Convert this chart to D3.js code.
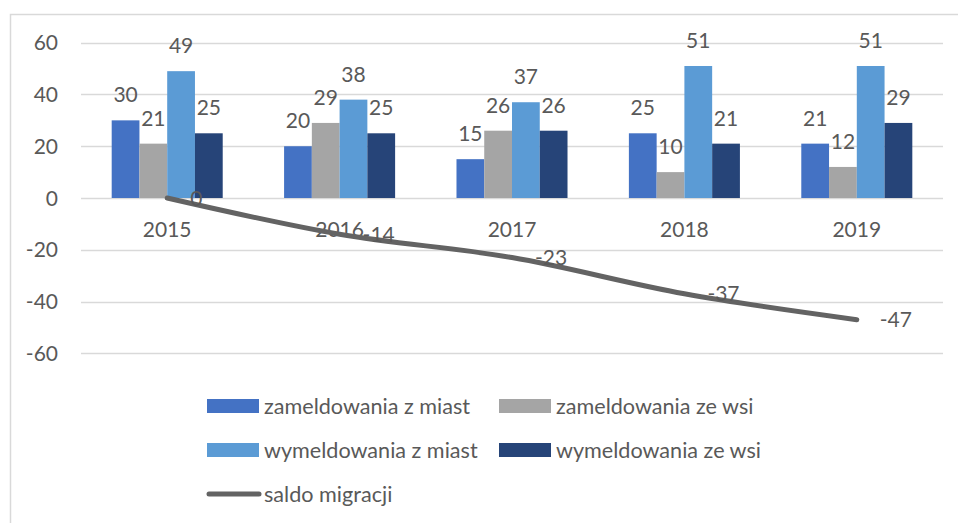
<!DOCTYPE html>
<meta charset="utf-8">
<style>

body {
  margin: 0;
  background: #fff;
}

text {
  font-family: Lato, "Open Sans", sans-serif;
  fill: #595959;
}

</style>
<svg></svg>
<script src="https://d3js.org/d3.v7.min.js"></script>
<script>

var width = 958,
    height = 523;

// data
var years = ["2015", "2016", "2017", "2018", "2019"];
var zamMiast = [30, 20, 15, 25, 21];
var zamWies = [21, 29, 26, 10, 12];
var wymMiast = [49, 38, 37, 51, 51];
var wymWies = [25, 25, 26, 21, 29];
var saldo = [0, -14, -23, -37, -47];
var yTicks = [-60, -40, -20, 0, 20, 40, 60];

var barSeries = [
  {name: "zameldowania z miast", values: zamMiast, color: "#4472C4"},
  {name: "zameldowania ze wsi", values: zamWies, color: "#A5A5A5"},
  {name: "wymeldowania z miast", values: wymMiast, color: "#5B9BD5"},
  {name: "wymeldowania ze wsi", values: wymWies, color: "#264478"}
];

var svg = d3.select("svg")
    .attr("width", width)
    .attr("height", height);

// chart border
svg.append("rect")
    .attr("x", 10.5)
    .attr("y", 14.5)
    .attr("width", 1000)
    .attr("height", 600)
    .attr("fill", "none")
    .attr("stroke", "#d9d9d9")
    .attr("stroke-width", 1.5);

var x = d3.scaleBand()
    .domain(years)
    .range([81, 943])
    .paddingInner(0.356)
    .paddingOuter(0.178);

var xs = d3.scaleBand()
    .domain(d3.range(barSeries.length))
    .range([0, x.bandwidth()]);

var y = d3.scaleLinear()
    .domain([-60, 60])
    .range([353.3, 42.7]);

// gridlines
svg.append("g").selectAll("line")
    .data(yTicks)
  .enter().append("line")
    .attr("x1", 81)
    .attr("x2", 943)
    .attr("y1", function(d) { return Math.round(y(d)) + 0.5; })
    .attr("y2", function(d) { return Math.round(y(d)) + 0.5; })
    .attr("stroke", "#d9d9d9")
    .attr("stroke-width", 1.5);

// y tick labels
svg.append("g").selectAll("text")
    .data(yTicks)
  .enter().append("text")
    .attr("x", 58)
    .attr("y", function(d) { return y(d); })
    .attr("dy", "0.36em")
    .attr("text-anchor", "end")
    .style("font-size", "21px")
    .text(function(d) { return d; });

// category labels
svg.append("g").selectAll("text")
    .data(years)
  .enter().append("text")
    .attr("x", function(d) { return x(d) + x.bandwidth() / 2; })
    .attr("y", 237)
    .attr("text-anchor", "middle")
    .style("font-size", "21px")
    .text(function(d) { return d; });

// bars
var groups = svg.append("g").selectAll("g")
    .data(barSeries)
  .enter().append("g")
    .attr("fill", function(d) { return d.color; });

groups.selectAll("rect")
    .data(function(d, i) { return d.values.map(function(v, j) { return {s: i, year: years[j], v: v}; }); })
  .enter().append("rect")
    .attr("x", function(d) { return x(d.year) + xs(d.s); })
    .attr("width", xs.bandwidth())
    .attr("y", function(d) { return y(Math.max(0, d.v)); })
    .attr("height", function(d) { return Math.abs(y(d.v) - y(0)); });

// saldo line
var line = d3.line()
    .x(function(d, i) { return x(years[i]) + x.bandwidth() / 2; })
    .y(function(d) { return y(d); })
    .curve(d3.curveCatmullRom.alpha(0.5));

svg.append("path")
    .datum(saldo)
    .attr("d", line)
    .attr("fill", "none")
    .attr("stroke", "#636363")
    .attr("stroke-width", 5)
    .attr("stroke-linecap", "round")
    .attr("stroke-linejoin", "round");

// bar value labels
groups.selectAll("text")
    .data(function(d, i) { return d.values.map(function(v, j) { return {s: i, year: years[j], v: v}; }); })
  .enter().append("text")
    .attr("x", function(d) { return x(d.year) + xs(d.s) + xs.bandwidth() / 2; })
    .attr("y", function(d) { return y(d.v) - 18; })
    .attr("text-anchor", "middle")
    .style("font-size", "21px")
    .text(function(d) { return d.v; });

// saldo labels, to the right of the points
svg.append("g").selectAll("text")
    .data(saldo)
  .enter().append("text")
    .attr("x", function(d, i) { return x(years[i]) + x.bandwidth() / 2 + 23; })
    .attr("y", function(d) { return y(d); })
    .attr("dy", "0.36em")
    .style("font-size", "21px")
    .text(function(d) { return d; });

// legend
var legendItems = [
  {s: barSeries[0], x: 207, y: 406},
  {s: barSeries[1], x: 499, y: 406},
  {s: barSeries[2], x: 207, y: 450},
  {s: barSeries[3], x: 499, y: 450}
];

var legend = svg.append("g");

legend.selectAll("rect")
    .data(legendItems)
  .enter().append("rect")
    .attr("x", function(d) { return d.x; })
    .attr("y", function(d) { return d.y - 7; })
    .attr("width", 52)
    .attr("height", 14)
    .attr("fill", function(d) { return d.s.color; });

legend.selectAll("text.bar")
    .data(legendItems)
  .enter().append("text")
    .attr("class", "bar")
    .attr("x", function(d) { return d.x + 57; })
    .attr("y", function(d) { return d.y; })
    .attr("dy", "0.36em")
    .style("font-size", "21.6px")
    .text(function(d) { return d.s.name; });

legend.append("line")
    .attr("x1", 209)
    .attr("x2", 259)
    .attr("y1", 494)
    .attr("y2", 494)
    .attr("stroke", "#636363")
    .attr("stroke-width", 5)
    .attr("stroke-linecap", "round");

legend.append("text")
    .attr("x", 264)
    .attr("y", 494)
    .attr("dy", "0.36em")
    .style("font-size", "21.6px")
    .text("saldo migracji");

</script>
